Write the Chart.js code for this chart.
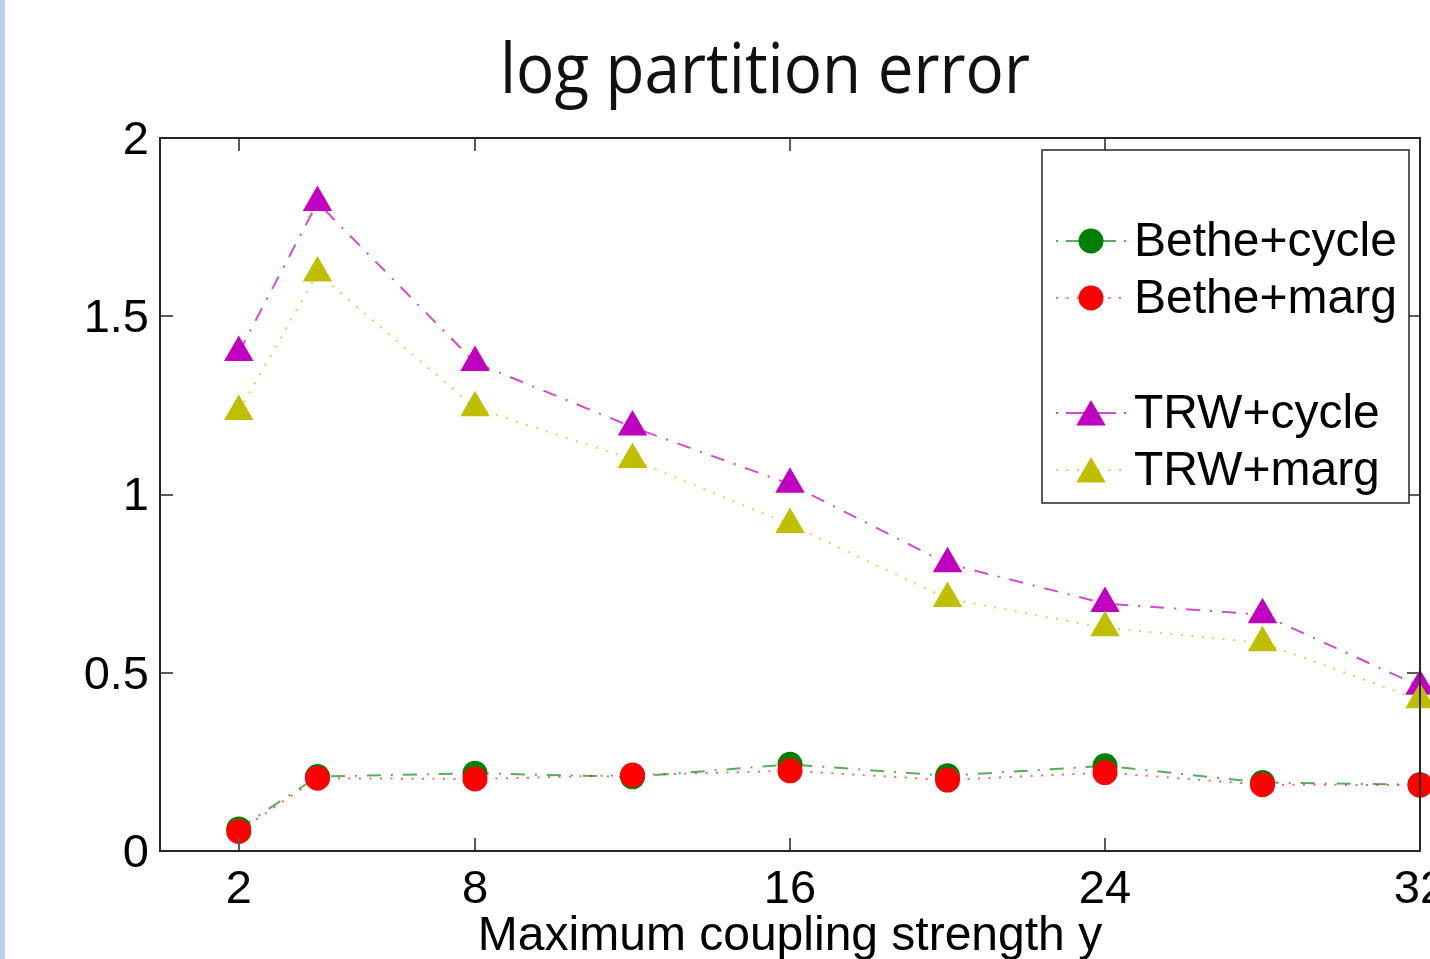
<!DOCTYPE html>
<html>
<head>
<meta charset="utf-8">
<script src="https://cdn.jsdelivr.net/npm/chart.js@4.4.1/dist/chart.umd.min.js"></script>
<style>
html, body { margin: 0; padding: 0; background: #fff; overflow: hidden; }
#wrap { position: absolute; left: 0; top: 0; width: 1430px; height: 959px; overflow: hidden; }
#strip { position: absolute; left: 0; top: 0; width: 5px; height: 959px; background: #bdd0ea; }
canvas { position: absolute; left: 0; top: 0; }
</style>
</head>
<body>
<div id="wrap">
    <canvas id="errChart" width="1480" height="1000"></canvas>
    <div id="strip"></div>
</div>
<script>
// data
const couplings = [2, 4, 8, 12, 16, 20, 24, 28, 32];
const betheCycle = [0.062, 0.209, 0.218, 0.208, 0.243, 0.211, 0.239, 0.192, 0.186];
const betheMarg = [0.055, 0.204, 0.202, 0.213, 0.225, 0.199, 0.220, 0.186, 0.185];
const trwCycle = [1.398, 1.819, 1.370, 1.189, 1.029, 0.806, 0.694, 0.663, 0.462];
const trwMarg = [1.233, 1.621, 1.243, 1.098, 0.916, 0.708, 0.626, 0.584, 0.424];
const xTicks = [2, 8, 16, 24, 32];
const yTicks = [0, 0.5, 1, 1.5, 2];
const seriesNames = ['Bethe+cycle', 'Bethe+marg', 'TRW+cycle', 'TRW+marg'];

const FONT = '"Liberation Sans", Arial, Helvetica, sans-serif';
const DASH_DOT = [14, 10, 2, 10];
const DOTTED = [2, 8.5];

function points(values) {
    return couplings.map((c, i) => ({ x: c, y: values[i] }));
}

function makeDataset(label, values, color, lineColor, dash, style, radius, order) {
    return {
        label: label,
        data: points(values),
        borderColor: lineColor,
        borderWidth: 2,
        borderDash: dash,
        backgroundColor: color,
        pointBackgroundColor: color,
        pointBorderColor: color,
        pointBorderWidth: 0,
        pointStyle: style,
        pointRadius: radius,
        pointHoverRadius: radius,
        tension: 0,
        fill: false,
        clip: false,
        order: order
    };
}

// frame box with inward ticks on all four sides
const framePlugin = {
    id: 'frame',
    afterDatasetsDraw(chart) {
        const ctx = chart.ctx;
        const a = chart.chartArea;
        const xs = chart.scales.x;
        const ys = chart.scales.y;
        ctx.save();
        ctx.strokeStyle = '#5a5a5a';
        ctx.lineWidth = 2;
        ctx.beginPath();
        xs.ticks.forEach(t => {
            const px = Math.round(xs.getPixelForValue(t.value));
            ctx.moveTo(px, a.bottom); ctx.lineTo(px, a.bottom - 13);
            ctx.moveTo(px, a.top); ctx.lineTo(px, a.top + 13);
        });
        ys.ticks.forEach(t => {
            const py = Math.round(ys.getPixelForValue(t.value));
            ctx.moveTo(a.left, py); ctx.lineTo(a.left + 13, py);
            ctx.moveTo(a.right, py); ctx.lineTo(a.right - 13, py);
        });
        ctx.stroke();
        ctx.strokeStyle = '#262626';
        ctx.strokeRect(a.left, a.top, a.right - a.left, a.bottom - a.top);
        ctx.restore();
    }
};

// legend box with a blank row between the two groups
const legendPlugin = {
    id: 'boxLegend',
    afterDraw(chart) {
        const ctx = chart.ctx;
        const rows = [241, 298, 413, 470];
        ctx.save();
        ctx.fillStyle = '#fff';
        ctx.fillRect(1042, 150, 367, 353);
        ctx.strokeStyle = '#262626';
        ctx.lineWidth = 1.5;
        ctx.strokeRect(1042, 150, 367, 353);
        chart.data.datasets.forEach((ds, i) => {
            const y = rows[i];
            ctx.strokeStyle = ds.borderColor;
            ctx.lineWidth = 2;
            ctx.setLineDash(ds.borderDash === DOTTED ? DOTTED : [2, 8, 50, 8]);
            ctx.beginPath();
            ctx.moveTo(1056, y);
            ctx.lineTo(1128, y);
            ctx.stroke();
            ctx.setLineDash([]);
            ctx.fillStyle = ds.pointBackgroundColor;
            Chart.helpers.drawPoint(ctx, {
                pointStyle: ds.pointStyle,
                radius: ds.pointRadius,
                rotation: 0,
                borderWidth: 0
            }, 1091, ds.pointStyle === 'triangle' ? y + 4 : y);
            ctx.fillStyle = '#000';
            ctx.font = '48px ' + FONT;
            ctx.textAlign = 'left';
            ctx.textBaseline = 'middle';
            ctx.fillText(ds.label, 1134, y + 2);
        });
        ctx.restore();
    }
};

const titlePlugin = {
    id: 'topTitle',
    afterDraw(chart) {
        const ctx = chart.ctx;
        const text = 'log partition error';
        ctx.save();
        ctx.font = '70px "Open Sans", "Noto Sans", sans-serif';
        ctx.fillStyle = '#111';
        ctx.textAlign = 'center';
        ctx.textBaseline = 'alphabetic';
        const w = ctx.measureText(text).width;
        ctx.translate(765, 93);
        ctx.scale(530 / w, 1);
        ctx.fillText(text, 0, 0);
        ctx.restore();
    }
};

const ctx = document.getElementById('errChart').getContext('2d');
new Chart(ctx, {
    type: 'line',
    data: {
        datasets: [
            makeDataset(seriesNames[0], betheCycle, '#008000', 'rgba(0,128,0,0.65)', DASH_DOT, 'circle', 12.5, 4),
            makeDataset(seriesNames[1], betheMarg, '#ff0000', 'rgba(255,0,0,0.6)', DOTTED, 'circle', 12.5, 3),
            makeDataset(seriesNames[2], trwCycle, '#bf00bf', 'rgba(191,0,191,0.7)', DASH_DOT, 'triangle', 17, 2),
            makeDataset(seriesNames[3], trwMarg, '#bfbf00', 'rgba(191,191,0,0.65)', DOTTED, 'triangle', 17, 1)
        ]
    },
    options: {
        responsive: false,
        animation: false,
        layout: { padding: { top: 138, right: 60, bottom: 0, left: 0 } },
        plugins: {
            legend: { display: false },
            tooltip: { enabled: false },
            title: { display: false }
        },
        scales: {
            x: {
                type: 'linear',
                min: 0,
                max: 32,
                grid: { display: false },
                border: { display: false },
                afterBuildTicks: scale => { scale.ticks = xTicks.map(v => ({ value: v })); },
                afterFit: scale => { scale.height = 149; },
                ticks: {
                    color: '#000',
                    padding: 3,
                    maxRotation: 0,
                    autoSkip: false,
                    font: { family: FONT, size: 47 },
                    callback: v => String(v)
                },
                title: {
                    display: true,
                    text: 'Maximum coupling strength y',
                    color: '#000',
                    font: { family: FONT, size: 48 },
                    padding: { top: 0, bottom: 34 }
                }
            },
            y: {
                type: 'linear',
                min: 0,
                max: 2,
                grid: { display: false },
                border: { display: false },
                afterBuildTicks: scale => { scale.ticks = yTicks.map(v => ({ value: v })); },
                afterFit: scale => { scale.width = 160; },
                ticks: {
                    color: '#000',
                    padding: 3,
                    labelOffset: 3,
                    autoSkip: false,
                    font: { family: FONT, size: 47 },
                    callback: v => String(v)
                }
            }
        }
    },
    plugins: [framePlugin, legendPlugin, titlePlugin]
});
</script>
</body>
</html>
